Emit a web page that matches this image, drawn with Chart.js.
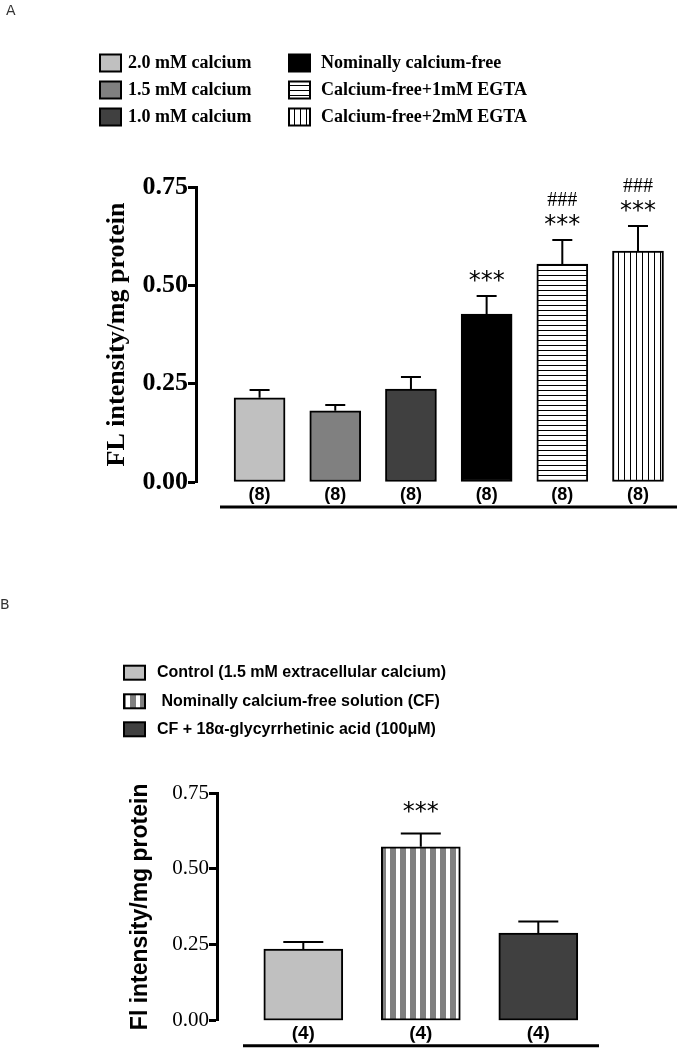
<!DOCTYPE html>
<html><head><meta charset="utf-8">
<script src="https://cdn.jsdelivr.net/npm/chart.js@4/dist/chart.umd.min.js"></script>
<style>
html,body{margin:0;padding:0;background:#fff;width:681px;height:1049px;overflow:hidden;position:relative}
canvas{position:absolute;left:0}
#cA{top:0}
#cB{top:540px}
.panel{position:absolute;font:14px "DejaVu Sans";color:#333;z-index:2}
</style></head><body>
<canvas id="cA" width="681" height="540"></canvas>
<canvas id="cB" width="681" height="509"></canvas>
<div class="panel" style="left:6px;top:2px">A</div>
<div class="panel" style="left:0px;top:596px">B</div>
<script>
// ---------- data (panel A) ----------
const catsA = ['2.0 mM calcium','1.5 mM calcium','1.0 mM calcium','Nominally calcium-free','Calcium-free+1mM EGTA','Calcium-free+2mM EGTA'];
const nA = ['(8)','(8)','(8)','(8)','(8)','(8)'];
const meanA = [0.214,0.181,0.236,0.427,0.554,0.587];
const semA = [0.020,0.015,0.031,0.046,0.061,0.064];
const starsA = ['','','','***','***','***'];
const hashA = ['','','','','###','###'];
const yTicksA = [0,0.25,0.5,0.75];
// ---------- data (panel B) ----------
const catsB = ['Control (1.5 mM extracellular calcium)',' Nominally calcium-free solution (CF)','CF + 18\u03B1-glycyrrhetinic acid (100\u03BCM)'];
const nB = ['(4)','(4)','(4)'];
const meanB = [0.236,0.573,0.289];
const semB = [0.023,0.044,0.038];
const starsB = ['','***',''];
const yTicksB = [0,0.25,0.5,0.75];

// ---------- patterns ----------
function makePattern(w,h,draw){
  const c=document.createElement('canvas');c.width=w;c.height=h;
  const x=c.getContext('2d');draw(x,w,h);
  return document.getElementById('cA').getContext('2d').createPattern(c,'repeat');
}
const hLines = makePattern(8,5,(x,w,h)=>{x.fillStyle='#fff';x.fillRect(0,0,w,h);x.fillStyle='#000';x.fillRect(0,0,w,1);});
const vLines = makePattern(6,8,(x,w,h)=>{x.fillStyle='#fff';x.fillRect(0,0,w,h);x.fillStyle='#000';x.fillRect(0,0,1,h);});
const greyStripes = makePattern(10,8,(x,w,h)=>{x.fillStyle='#fff';x.fillRect(0,0,w,h);x.fillStyle='#808080';x.fillRect(0,0,6,h);});
const fillsA = ['#c0c0c0','#808080','#404040','#000000',hLines,vLines];
const fillsB = ['#c0c0c0',greyStripes,'#404040'];

// ---------- plugins ----------
const errBars = {
  id:'errBars',
  afterDatasetsDraw(chart,args,o){
    const ctx=chart.ctx, ys=chart.scales.y, ds=chart.data.datasets[0], meta=chart.getDatasetMeta(0);
    ctx.save();
    meta.data.forEach((bar,i)=>{
      const v=ds.data[i].y, e=ds.errors[i];
      const yt=ys.getPixelForValue(v+e);
      ctx.strokeStyle='#000';ctx.lineWidth=o.width;
      ctx.beginPath();ctx.moveTo(bar.x,bar.y);ctx.lineTo(bar.x,yt);
      ctx.moveTo(bar.x-o.cap,yt);ctx.lineTo(bar.x+o.cap,yt);ctx.stroke();
      ctx.fillStyle='#000';ctx.textAlign='center';ctx.textBaseline='alphabetic';
      if(ds.stars && ds.stars[i]){ctx.font=o.starFont;ctx.fillText(ds.stars[i],bar.x,yt-o.starGap);}
      if(ds.hashes && ds.hashes[i]){ctx.font=o.hashFont;ctx.fillText(ds.hashes[i],bar.x,yt-o.starGap-o.hashGap);}
    });
    ctx.restore();
  }
};
const gridLegend = {
  id:'gridLegend',
  afterDraw(chart,args,o){
    const ctx=chart.ctx, ds=chart.data.datasets[0];
    ctx.save();
    ds.legendTexts.forEach((t,i)=>{
      const col=Math.floor(i/o.perCol), row=i%o.perCol;
      const bx=o.boxX[col], tx=o.textX[col], cy=o.rows[row];
      ctx.fillStyle=ds.backgroundColor[i];
      ctx.fillRect(bx,cy-o.boxH/2,o.boxW,o.boxH);
      ctx.strokeStyle='#000';ctx.lineWidth=o.border;
      ctx.strokeRect(bx,cy-o.boxH/2,o.boxW,o.boxH);
      ctx.fillStyle='#000';ctx.font=o.font;ctx.textAlign='left';ctx.textBaseline='middle';
      ctx.fillText(t,tx,cy);
    });
    ctx.restore();
  }
};
const baseLine = {
  id:'baseLine',
  afterDraw(chart,args,o){
    const ctx=chart.ctx, y=chart.chartArea.bottom+o.dy;
    ctx.save();ctx.strokeStyle='#000';ctx.lineWidth=o.width;
    ctx.beginPath();ctx.moveTo(o.x1,y);ctx.lineTo(o.x2,y);ctx.stroke();ctx.restore();
  }
};
const whiteBg = {
  id:'whiteBg',
  beforeDraw(chart){const c=chart.ctx;c.save();c.fillStyle='#fff';c.fillRect(0,0,chart.width,chart.height);c.restore();}
};

// ---------- chart builder ----------
function build(id,cfg){
  return new Chart(document.getElementById(id),{
    type:'bar',
    data:{datasets:[{
      data:cfg.mean.map((v,i)=>({x:i+1,y:v})),
      backgroundColor:cfg.fills,borderColor:'#000',borderWidth:2,borderSkipped:false,
      barThickness:cfg.barW,errors:cfg.sem,stars:cfg.stars,hashes:cfg.hashes,legendTexts:cfg.cats
    }]},
    options:{
      responsive:false,animation:false,devicePixelRatio:1,
      layout:{padding:cfg.padding},
      plugins:{legend:{display:false},tooltip:{enabled:false},
        errBars:cfg.err,gridLegend:cfg.legend,baseLine:cfg.base},
      scales:{
        x:{type:'linear',min:cfg.xMin,max:cfg.xMax,offset:false,bounds:'data',
          grid:{display:false,drawTicks:false,offset:false},border:{display:false},
          afterBuildTicks:s=>{s.ticks=cfg.nLab.map((_,i)=>({value:i+1}));},
          ticks:{callback:(v,i)=>cfg.nLab[i],font:cfg.xFont,color:'#000',padding:2,maxRotation:0,autoSkip:false},
          afterFit:s=>{s.height=cfg.xH;s.paddingLeft=0;s.paddingRight=0;}},
        y:{min:0,max:0.75,
          afterBuildTicks:s=>{s.ticks=cfg.yTicks.map(v=>({value:v}));},
          ticks:{callback:v=>v.toFixed(2),font:cfg.yFont,color:'#000',padding:0,autoSkip:false},
          grid:{drawOnChartArea:false,drawTicks:true,tickLength:8,tickWidth:3,tickColor:'#000'},
          border:{display:true,color:'#000',width:3},
          title:{display:true,text:cfg.yTitle,font:cfg.titleFont,color:'#000',padding:{top:cfg.titlePad,bottom:0}},
          afterFit:s=>{s.width=cfg.yW;s.paddingTop=0;s.paddingBottom=0;}}
      }
    },
    plugins:[whiteBg,errBars,gridLegend,baseLine]
  });
}

build('cA',{
  mean:meanA,sem:semA,stars:starsA,hashes:hashA,cats:catsA,fills:fillsA,nLab:nA,yTicks:yTicksA,
  barW:51,xMin:0.16,xMax:6.555,xH:30,yW:106,titlePad:12,
  padding:{top:187,left:90,right:1,bottom:28},
  xFont:{family:'Liberation Sans',weight:'bold',size:18},
  yFont:{family:'Liberation Serif',weight:'bold',size:26},
  titleFont:{family:'Liberation Serif',weight:'bold',size:26},
  yTitle:'FL intensity/mg protein',
  err:{width:2,cap:10,starFont:'24px "DejaVu Sans"',hashFont:'20px "Liberation Serif"',starGap:8,hashGap:26},
  legend:{perCol:3,boxX:[100,289],textX:[128,321],rows:[63,90,117],boxW:21,boxH:17,border:2,font:'bold 18px "Liberation Serif"'},
  base:{dy:25,x1:220,x2:677,width:3}
});
build('cB',{
  mean:meanB,sem:semB,stars:starsB,hashes:null,cats:catsB,fills:fillsB,nLab:nB,yTicks:yTicksB,
  barW:79,xMin:0.2655,xMax:4.206,xH:22,yW:97,titlePad:7,
  padding:{top:253,left:120,right:1,bottom:6.3},
  xFont:{family:'Liberation Sans',weight:'bold',size:19},
  yFont:{family:'Liberation Serif',size:21},
  titleFont:{family:'Liberation Sans',weight:'bold',size:23},
  yTitle:'Fl intensity/mg protein',
  err:{width:2,cap:20,starFont:'24px "DejaVu Sans"',hashFont:'20px "Liberation Serif"',starGap:14,hashGap:26},
  legend:{perCol:3,boxX:[124],textX:[157],rows:[132.7,161.3,189.3],boxW:21,boxH:14,border:2,font:'bold 16px "Liberation Sans"'},
  base:{dy:25,x1:243,x2:599,width:3}
});
</script>
</body></html>
